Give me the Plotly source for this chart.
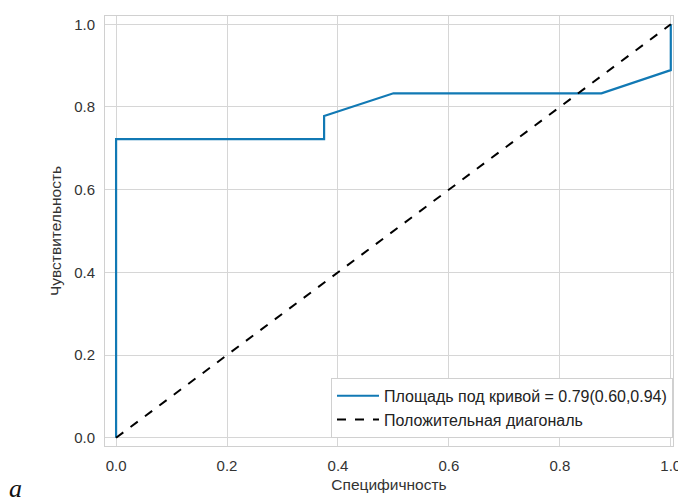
import plotly.graph_objects as go

# ROC curve data
fpr = [0.0, 0.0, 0.375, 0.375, 0.5, 0.875, 1.0, 1.0]
tpr = [0.0, 0.722, 0.722, 0.778, 0.833, 0.833, 0.889, 1.0]
diag_x = [0.0, 1.0]
diag_y = [0.0, 1.0]
roc_label = "Площадь под кривой = 0.79(0.60,0.94)"
diag_label = "Положительная диагональ"
tick_vals = [0.0, 0.2, 0.4, 0.6, 0.8, 1.0]
tick_text = ["0.0", "0.2", "0.4", "0.6", "0.8", "1.0"]

fig = go.Figure()
fig.add_trace(go.Scatter(x=fpr, y=tpr, mode="lines", name=roc_label, cliponaxis=False,
                         line=dict(color="#1179b4", width=2.2)))
fig.add_trace(go.Scatter(x=diag_x, y=diag_y, mode="lines", name=diag_label, cliponaxis=False,
                         line=dict(color="black", width=2, dash="dash")))

axis_common = dict(showgrid=True, gridcolor="#d6d6d6", gridwidth=1,
                   zeroline=False, showline=True, linecolor="#d0d0d0",
                   linewidth=1, mirror=True, ticks="outside",
                   tickcolor="rgba(0,0,0,0)", tickvals=tick_vals, ticktext=tick_text,
                   automargin=False, ticklabeloverflow="allow",
                   tickfont=dict(family="Liberation Sans, Arial", size=15, color="#333"))

fig.update_layout(
    width=678, height=503,
    margin=dict(l=105, r=5, t=16, b=57),
    paper_bgcolor="white", plot_bgcolor="white",
    font=dict(family="Liberation Sans, Arial", color="#333"),
    xaxis=dict(range=[-0.02, 1.004], ticklen=6,
               title=dict(text="Специфичность", font=dict(size=15.5, color="#333"), standoff=6),
               **axis_common),
    yaxis=dict(range=[-0.02, 1.02], ticklen=6,
               title=dict(text="Чувствительность", font=dict(size=15.5, color="#333"), standoff=8),
               **axis_common),
    legend=dict(x=1, y=0.019, xanchor="right", yanchor="bottom",
                bgcolor="white", bordercolor="#d0d0d0", borderwidth=1,
                itemwidth=42,
                font=dict(size=16, color="#222")),
    showlegend=True,
)

fig.add_annotation(text="<i>a</i>", xref="paper", yref="paper", x=-0.158, y=-0.098,
                   xanchor="center", yanchor="middle", showarrow=False,
                   font=dict(family="Liberation Serif, Times New Roman", size=26, color="#111"))

fig.write_html(
    "out.html",
    config={"displayModeBar": False},
    post_script="document.body.style.margin='0';document.body.style.overflow='hidden';",
)
